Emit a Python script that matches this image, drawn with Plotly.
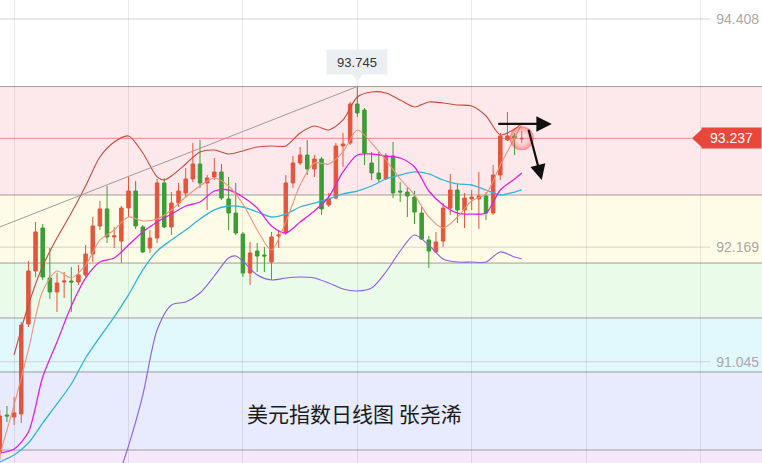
import plotly.graph_objects as go

# ---------------- data ----------------
opens = [90.149, 90.522, 90.502, 90.532, 91.415, 91.935, 92.357, 91.866, 91.729, 91.827,
         91.837, 91.827, 91.896, 92.102, 92.377, 92.544, 92.269, 92.229, 92.553, 92.720,
         92.367, 92.161, 92.259, 92.799, 92.367, 92.602, 92.701, 92.838, 92.985, 92.799,
         92.858, 92.907, 92.642, 92.504, 92.298, 91.915, 92.131, 92.092, 92.023, 92.279,
         92.308, 92.799, 92.995, 93.073, 92.936, 93.034, 92.583, 92.651, 93.162, 93.191,
         93.574, 93.515, 92.995, 92.897, 92.838, 93.064, 92.720, 92.710, 92.661, 92.504,
         92.239, 92.122, 92.229, 92.553, 92.730, 92.534, 92.642, 92.642, 92.671, 92.504,
         92.877, 93.221, 93.260, 93.230]
highs = [90.571, 90.610, 90.699, 91.435, 92.033, 92.416, 92.396, 92.161, 91.915, 91.925,
         91.974, 91.994, 92.190, 92.465, 92.622, 92.769, 92.367, 92.573, 92.858, 92.818,
         92.386, 92.337, 92.838, 92.848, 92.710, 92.799, 92.946, 93.191, 93.221, 92.877,
         93.044, 92.985, 92.858, 92.799, 92.318, 92.220, 92.210, 92.171, 92.318, 92.337,
         92.877, 93.064, 93.152, 93.221, 93.073, 93.054, 92.701, 93.191, 93.289, 93.594,
         93.745, 93.535, 93.103, 93.103, 93.093, 93.201, 92.808, 92.759, 92.720, 92.563,
         92.279, 92.318, 92.602, 92.887, 92.789, 92.701, 92.730, 92.907, 92.710, 92.975,
         93.289, 93.495, 93.289, 93.309]
lows = [90.080, 90.453, 90.424, 90.443, 91.386, 91.876, 91.847, 91.660, 91.533, 91.670,
        91.533, 91.798, 91.876, 92.023, 92.337, 92.210, 92.161, 92.014, 92.465, 92.347,
        92.112, 92.112, 92.210, 92.357, 92.288, 92.563, 92.651, 92.808, 92.750, 92.534,
        92.828, 92.632, 92.337, 92.288, 91.876, 91.798, 91.925, 91.925, 91.847, 92.161,
        92.288, 92.750, 92.975, 92.877, 92.858, 92.485, 92.563, 92.642, 92.956, 93.172,
        93.446, 92.975, 92.828, 92.808, 92.828, 92.651, 92.612, 92.465, 92.396, 92.239,
        91.965, 92.112, 92.171, 92.485, 92.406, 92.357, 92.534, 92.347, 92.436, 92.485,
        92.828, 93.211, 93.073, 93.191]
closes = [90.512, 90.512, 90.542, 91.405, 91.935, 92.318, 91.876, 91.729, 91.817, 91.837,
          91.827, 91.896, 92.102, 92.377, 92.544, 92.269, 92.279, 92.553, 92.720, 92.377,
          92.122, 92.259, 92.799, 92.367, 92.602, 92.720, 92.838, 92.985, 92.799, 92.848,
          92.907, 92.651, 92.504, 92.308, 91.915, 92.112, 92.082, 92.082, 92.269, 92.288,
          92.799, 92.995, 93.073, 92.936, 93.034, 92.544, 92.642, 93.162, 93.181, 93.574,
          93.486, 93.093, 92.897, 92.838, 93.064, 92.701, 92.710, 92.671, 92.514, 92.249,
          92.131, 92.220, 92.553, 92.730, 92.534, 92.651, 92.661, 92.671, 92.504, 92.877,
          93.260, 93.260, 93.240, 93.237]
days = list(range(len(opens)))

# Bollinger upper / lower, MA lines (read at chosen candle indices)
upper_idx = [2, 4, 6, 8, 10, 12, 14, 16, 18, 20, 22, 23, 24, 26, 28, 30, 32, 34, 36, 38,
             40, 42, 44, 46, 48, 50, 52, 54, 56, 58, 60, 62, 64, 66, 68, 70, 72, 73]
upper_val = [91.111, 91.601, 91.984, 92.259, 92.504, 92.769, 93.054, 93.201, 93.260, 93.093,
             92.858, 92.828, 92.867, 92.985, 93.103, 93.122, 93.083, 93.113, 93.152, 93.162,
             93.162, 93.289, 93.358, 93.319, 93.417, 93.643, 93.692, 93.682, 93.613, 93.545,
             93.594, 93.584, 93.564, 93.554, 93.456, 93.270, 93.329, 93.387]
lower_idx = [16, 18, 20, 22, 24, 26, 28, 30, 32, 33, 34, 36, 38, 40, 42, 44, 46, 48, 50, 52,
             54, 56, 58, 60, 62, 64, 66, 68, 70, 72, 73]
lower_val = [89.796, 90.218, 90.718, 91.356, 91.601, 91.631, 91.719, 91.886, 92.063, 92.082,
             92.033, 91.896, 91.847, 91.866, 91.876, 91.866, 91.817, 91.758, 91.739, 91.768,
             91.925, 92.131, 92.288, 92.190, 92.053, 92.023, 92.023, 92.023, 92.122, 92.072,
             92.053]
ma_idx = list(range(0, 73, 2)) + [73]
mid_val = [90.061, 90.129, 90.247, 90.443, 90.630, 90.826, 91.081, 91.287, 91.484, 91.700,
           91.945, 92.131, 92.239, 92.337, 92.445, 92.534, 92.573, 92.563, 92.514, 92.465,
           92.494, 92.563, 92.602, 92.642, 92.691, 92.720, 92.769, 92.838, 92.877, 92.907,
           92.887, 92.828, 92.789, 92.779, 92.730, 92.681, 92.710, 92.730]
ma10_val = [90.149, 90.188, 90.355, 90.895, 91.238, 91.592, 91.866, 92.023, 92.063, 92.190,
            92.318, 92.416, 92.494, 92.573, 92.612, 92.720, 92.730, 92.661, 92.553, 92.377,
            92.308, 92.416, 92.524, 92.661, 92.907, 93.073, 93.083, 93.064, 93.044, 92.956,
            92.720, 92.583, 92.504, 92.494, 92.504, 92.730, 92.838, 92.897]
ma5_idx = [0, 1] + list(range(2, 73, 2)) + [73]
ma5_val = [90.130, 90.375, 90.620, 91.160, 91.739, 91.935, 91.866, 91.994, 92.239, 92.337,
           92.465, 92.426, 92.445, 92.534, 92.661, 92.769, 92.848, 92.769, 92.593, 92.337,
           92.141, 92.416, 92.779, 92.995, 92.985, 93.103, 93.319, 93.191, 93.024, 92.838,
           92.681, 92.465, 92.357, 92.465, 92.622, 92.691, 92.975, 93.240, 93.378]

# Horizontal levels and axis ticks
band_levels = [93.745, 92.681, 92.013, 91.474, 90.944, 90.178]
band_colors = ["#fde9ec", "#fefbe7", "#ebfbe9", "#e1f8fd", "#e8eafd", "#f6e8fb"]
tick_vals = [94.408, 92.169, 91.045]
tick_text = ["94.408", "92.169", "91.045"]
peak_day, peak_price = 50, 93.745
trend_start = (0, 92.367)
last_price = closes[-1]
arrow_right = ((69.5, 93.378), (77.2, 93.378))
arrow_down = ((73.9, 93.335), (75.8, 92.828))
title_text = "美元指数日线图 张尧浠"

Y_RANGE = [90.0508, 94.5945]
X_RANGE = [0.028, 106.601]

fig = go.Figure()

fig.add_trace(go.Candlestick(
    x=days, open=opens, high=highs, low=lows, close=closes,
    increasing=dict(line=dict(color="#e4553b", width=1), fillcolor="#e4553b"),
    decreasing=dict(line=dict(color="#3a9d35", width=1), fillcolor="#3a9d35"),
    whiskerwidth=0, showlegend=False, hoverinfo="skip"))

def add_line(xs, ys, color, width):
    fig.add_trace(go.Scatter(x=xs, y=ys, mode="lines",
                             line=dict(color=color, width=width, shape="spline", smoothing=0.8),
                             showlegend=False, hoverinfo="skip"))

add_line(upper_idx, upper_val, "#c94a3e", 1.1)
add_line(lower_idx, lower_val, "#8b5ee0", 1.1)
add_line(ma_idx, mid_val, "#2fb6d8", 1.3)
add_line(ma_idx, ma10_val, "#e21fe6", 1.3)
add_line(ma5_idx, ma5_val, "#f2917d", 1.1)

# soft glow at last candle
fig.add_trace(go.Scatter(
    x=[days[-1]], y=[last_price], mode="markers",
    marker=dict(size=24, color="rgba(240,20,20,0.6)",
                gradient=dict(type="radial", color="rgba(255,255,255,0)"),
                line=dict(width=0), opacity=0.8),
    showlegend=False, hoverinfo="skip"))

# trend line
fig.add_trace(go.Scatter(x=[trend_start[0], peak_day], y=[trend_start[1], peak_price],
                         mode="lines", line=dict(color="#a09a9a", width=1),
                         showlegend=False, hoverinfo="skip"))

shapes = []
# colored bands
for k, col in enumerate(band_colors):
    top = band_levels[k]
    bot = band_levels[k + 1] if k + 1 < len(band_levels) else Y_RANGE[0]
    shapes.append(dict(type="rect", xref="paper", yref="y", x0=0, x1=1, y0=bot, y1=top,
                       fillcolor=col, line=dict(width=0), layer="below"))
for lv in band_levels:
    shapes.append(dict(type="line", xref="paper", yref="y", x0=0, x1=1, y0=lv, y1=lv,
                       line=dict(color="#a29c9c", width=1), layer="below"))
for tv in tick_vals:
    shapes.append(dict(type="line", xref="paper", yref="y", x0=0, x1=0.932, y0=tv, y1=tv,
                       line=dict(color="#d2d2d2", width=1), layer="below"))
# last price line + label pointer
shapes.append(dict(type="line", xref="paper", yref="y", x0=0, x1=0.908, y0=last_price,
                   y1=last_price, line=dict(color="#ea8a8a", width=1), layer="below"))
shapes.append(dict(type="path", xref="paper", yref="y", xsizemode="pixel", ysizemode="pixel",
                   xanchor=1, yanchor=last_price,
                   path="M -59,10 L -59,-10 L -70,0 Z", fillcolor="#e8473b",
                   line=dict(width=0), layer="above"))
# peak callout pointer
shapes.append(dict(type="path", xref="x", yref="y", xsizemode="pixel", ysizemode="pixel",
                   xanchor=peak_day, yanchor=peak_price,
                   path="M -6,13 L 6,13 L 0,5 Z", fillcolor="#eceff2",
                   line=dict(width=0), layer="above"))

annotations = [
    dict(x=1, xref="paper", y=last_price, yref="y", xanchor="right", yanchor="middle",
         text=f"{last_price:.3f}", showarrow=False,
         font=dict(color="white", size=14, family="Liberation Sans"),
         bgcolor="#e8473b", width=55, height=16, borderpad=2),
    dict(x=peak_day, y=peak_price, xref="x", yref="y", yshift=25, showarrow=False,
         xanchor="center", yanchor="middle",
         text=f"{peak_price:.3f}", font=dict(color="#333333", size=13, family="Liberation Sans"),
         bgcolor="#eceff2", width=52, height=16, borderpad=4),
    dict(x=0.4646, y=0.108, xref="paper", yref="paper", showarrow=False, text=title_text,
         xanchor="center", yanchor="middle",
         font=dict(color="#1a1a1a", size=21, family="Noto Sans CJK SC")),
]
for (tail, head) in (arrow_right, arrow_down):
    annotations.append(dict(x=head[0], y=head[1], ax=tail[0], ay=tail[1], xref="x", yref="y",
                            axref="x", ayref="y", showarrow=True, arrowhead=2, arrowsize=1.4,
                            arrowwidth=2.2, arrowcolor="#111111", text=""))

fig.update_layout(
    width=762, height=463, margin=dict(l=0, r=0, t=0, b=0),
    paper_bgcolor="white", plot_bgcolor="white",
    shapes=shapes, annotations=annotations, showlegend=False,
    xaxis=dict(range=X_RANGE, rangeslider=dict(visible=False), showgrid=True,
               gridcolor="rgba(0,0,0,0.08)", gridwidth=1, tick0=2, dtick=16,
               showticklabels=False, zeroline=False, showline=False, ticks=""),
    yaxis=dict(range=Y_RANGE, side="right", ticklabelposition="inside", tickvals=tick_vals,
               ticktext=tick_text, showgrid=False, zeroline=False, showline=False, ticks="",
               tickfont=dict(color="#a8a8a8", size=14, family="Liberation Sans")),
)

fig.write_html("out.html", config={"displayModeBar": False, "staticPlot": True},
               post_script="document.body.style.margin='0px';document.body.style.overflow='hidden';")
